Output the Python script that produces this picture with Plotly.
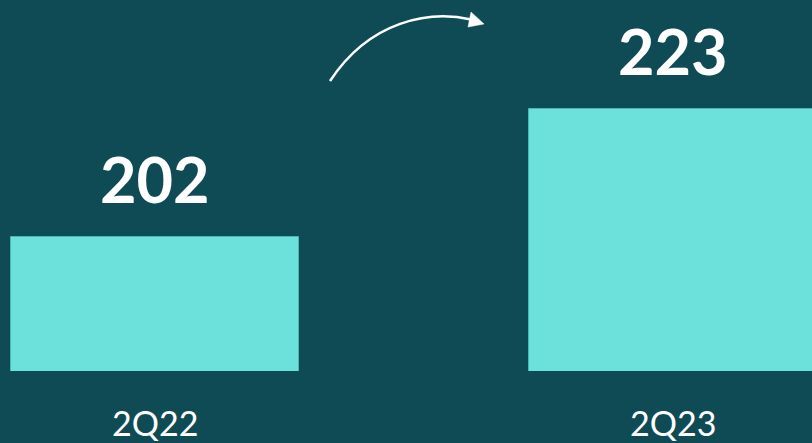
import plotly.graph_objects as go

categories = ["2Q22", "2Q23"]
values = [202, 223]
value_labels = ["202", "223"]

BG = "#0F4B55"
BAR = "#6CE1DC"
BAR_EDGE = "#4DB5B5"

x_pos = list(range(len(categories)))

fig = go.Figure()
fig.add_trace(go.Bar(
    x=x_pos, y=values, width=0.5557,
    marker=dict(color=BAR, line=dict(color=BAR_EDGE, width=1)),
    hoverinfo="skip", showlegend=False,
))

for xi, v, lab in zip(x_pos, values, value_labels):
    fig.add_annotation(x=xi, y=v, xref="x", yref="y", text=f"<b>{lab}</b>",
                       showarrow=False, yanchor="middle", yshift=58,
                       font=dict(family="Lato", size=63, color="white"))

for xi, cat in zip(x_pos, categories):
    fig.add_annotation(x=xi, y=0, xref="x", yref="paper", text=cat,
                       showarrow=False, yanchor="middle", yshift=-51,
                       font=dict(family="Lato", size=34, color="white"))

W, H_plot = 812.0, 371.0
def px(x): return x / W
def py(y): return 1 - y / H_plot

# curved arrow (decoration)
path = (f"M {px(330)},{py(81)} C {px(370)},{py(20)} {px(430)},{py(10)} {px(471)},{py(19.5)}")
fig.add_shape(type="path", path=path, xref="paper", yref="paper",
              line=dict(color="white", width=2.5))
tri = f"M {px(484)},{py(24)} L {px(471)},{py(12)} L {px(468)},{py(27)} Z"
fig.add_shape(type="path", path=tri, xref="paper", yref="paper",
              line=dict(color="white", width=0.5), fillcolor="white")

spacing = 518.3
fig.update_layout(
    width=812, height=443,
    margin=dict(l=0, r=0, t=0, b=72),
    paper_bgcolor=BG, plot_bgcolor=BG,
    xaxis=dict(range=[-155 / spacing, (812 - 155) / spacing], visible=False, fixedrange=True),
    yaxis=dict(range=[180, 180 + 371 / 6.1], visible=False, fixedrange=True),
    bargap=0,
)

fig.write_html("out.html", config={"displayModeBar": False})
